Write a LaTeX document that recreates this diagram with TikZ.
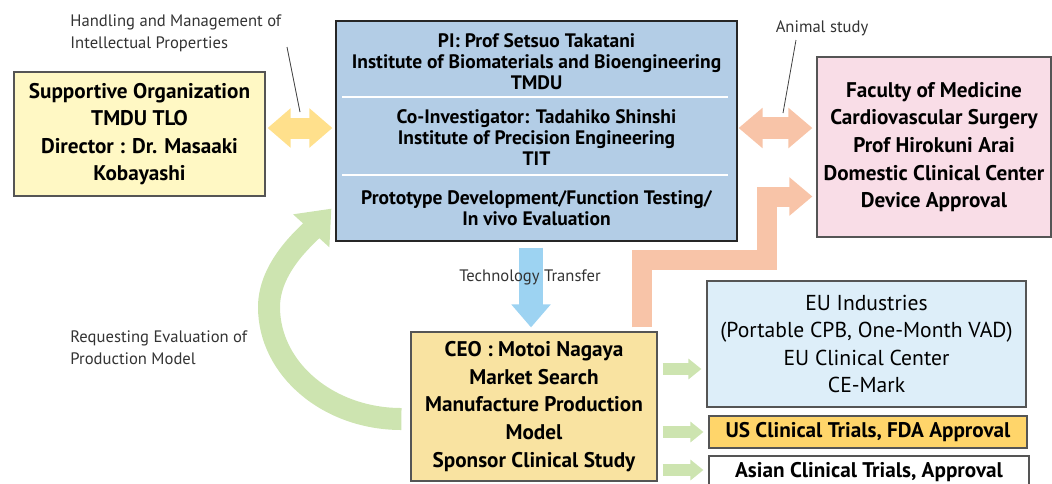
\documentclass[tikz,border=0pt]{standalone}
\usepackage{fontspec}
\setmainfont{PT Sans}
\usetikzlibrary{arrows.meta}
\definecolor{tloyellow}{HTML}{FFF8C4}
\definecolor{ipyellow}{HTML}{FFE08C}
\definecolor{piblue}{HTML}{B3CDE6}
\definecolor{salmon}{HTML}{F8C4A8}
\definecolor{medpink}{HTML}{F9DDE7}
\definecolor{ttblue}{HTML}{9DD3F2}
\definecolor{ceoyellow}{HTML}{F9E3A1}
\definecolor{greenarrow}{HTML}{CDE4B0}
\definecolor{eublue}{HTML}{DDEEF9}
\definecolor{usgold}{HTML}{FFD56A}
\definecolor{boxgray}{HTML}{555555}
\begin{document}
\begin{tikzpicture}[x=.5pt,y=-.5pt,
 box/.style={draw=boxgray, line width=.6pt, inner sep=0pt, align=center, font=\bfseries\fontsize{10.6}{13.8}\selectfont},
 pitext/.style={align=center, inner sep=0pt, font=\bfseries\fontsize{9.75}{10.5}\selectfont},
 note/.style={align=left, inner sep=0pt, text=black!80, font=\fontsize{8.3}{11}\selectfont},
 leader/.style={draw=black!75, line width=.4pt},
 garrow/.style={draw=greenarrow, line width=6.4pt, shorten <=2.5pt, shorten >=2.5pt, -{Triangle[width=10pt,length=6.5pt]}}]
\clip (0,0) rectangle (1052,483);
% boxes
\node[box, fill=tloyellow, minimum width=125.5pt, minimum height=62pt] (tlo) at (139.5,134) {Supportive Organization\\TMDU TLO\\Director : Dr. Masaaki\\Kobayashi};
\node[box, fill=piblue, draw=black!85, minimum width=200.5pt, minimum height=110pt] (pi) at (536.5,131) {};
\node[pitext] (pi1) at (536.5,62) {PI: Prof Setsuo Takatani\\Institute of Biomaterials and Bioengineering\\TMDU};
\node[pitext] (pi2) at (536.5,138) {Co-Investigator: Tadahiko Shinshi\\Institute of Precision Engineering\\TIT};
\node[pitext] (pi3) at (536.5,208.5) {Prototype Development/Function Testing/\\In vivo Evaluation};
\foreach \y in {97,175} \draw[white, line width=.8pt] ([xshift=3.5pt]pi.west |- 0,\y) -- ([xshift=-5pt]pi.east |- 0,\y);
\node[box, fill=medpink, minimum width=117pt, minimum height=90pt] (med) at (934,147) {Faculty of Medicine\\Cardiovascular Surgery\\Prof Hirokuni Arai\\Domestic Clinical Center\\Device Approval};
\node[box, fill=ceoyellow, minimum width=123pt, minimum height=74.5pt] (ceo) at (534,406.5) {CEO : Motoi Nagaya\\Market Search\\Manufacture Production\\Model\\Sponsor Clinical Study};
\node[box, fill=eublue, minimum width=159.5pt, minimum height=63pt, font=\fontsize{10.8}{13.8}\selectfont] (eu) at (866.5,344) {EU Industries\\(Portable CPB, One-Month VAD)\\EU Clinical Center\\CE-Mark};
\node[box, fill=usgold, minimum width=159pt, minimum height=16pt] (us) at (868,432) {US Clinical Trials, FDA Approval};
\node[box, fill=white, minimum width=160pt, minimum height=16pt] (asia) at (869,472) {Asian Clinical Trials, Approval};
% block arrows
\draw[ipyellow, line width=10.5pt, {Triangle[width=19pt,length=11.5pt]}-{Triangle[width=19pt,length=11.5pt]}, shorten <=1pt, shorten >=1.5pt] ([yshift=3pt]tlo.east) -- ([yshift=3pt]tlo.east -| pi.west);
\draw[salmon, line width=11pt, {Triangle[width=19.5pt,length=12pt]}-{Triangle[width=19.5pt,length=12pt]}, shorten <=.5pt, shorten >=2pt] ([yshift=1.5pt]pi.east) -- ([yshift=1.5pt]pi.east -| med.west);
\coordinate (step) at (767,259.5);
\draw[salmon, line width=10pt, line join=miter, -{Triangle[width=18.5pt,length=11.5pt]}] ([shift={(108,-4)}]ceo.north) |- (step) |- ([shift={(-4,49.5)}]med.west);
\draw[ttblue, line width=12pt, -{Triangle[width=19pt,length=11.5pt]}] ([shift={(-5.5,6)}]pi.south) -- ([shift={(-3,-4)}]ceo.north);
\coordinate (loop) at (269,307);
\draw[greenarrow, line width=11pt, -{Triangle[width=23.5pt,length=15pt]}] ([shift={(-9,12.5)}]ceo.west) .. controls +(-73,0) and +(0,62) .. (loop) .. controls +(0,-40) and +(-25,27.5) .. ([shift={(-4,-33)}]pi.south west);
\coordinate (eu-in) at ([yshift=-12.5pt]eu.west);
\draw[garrow] (eu-in -| ceo.east) -- (eu-in);
\draw[garrow] (us.west -| ceo.east) -- (us.west);
\draw[garrow] ([yshift=1pt]asia.west -| ceo.east) -- ([yshift=1pt]asia.west);
% labels
\node[note, anchor=west] (ipl) at (70,33) {Handling and Management of\\Intellectual Properties};
\node[note] (animal) at (822,28) {Animal study};
\node[note] (tech) at (530,277) {Technology Transfer};
\node[note, anchor=west] (req) at (70,348) {Requesting Evaluation of\\Production Model};
\coordinate (ipl-a) at (287,47);
\coordinate (ipl-b) at (300,112);
\coordinate (animal-a) at (796,40);
\coordinate (animal-b) at (783,113);
\draw[leader] (ipl-a) -- (ipl-b);
\draw[leader] (animal-a) -- (animal-b);
\end{tikzpicture}
\end{document}
